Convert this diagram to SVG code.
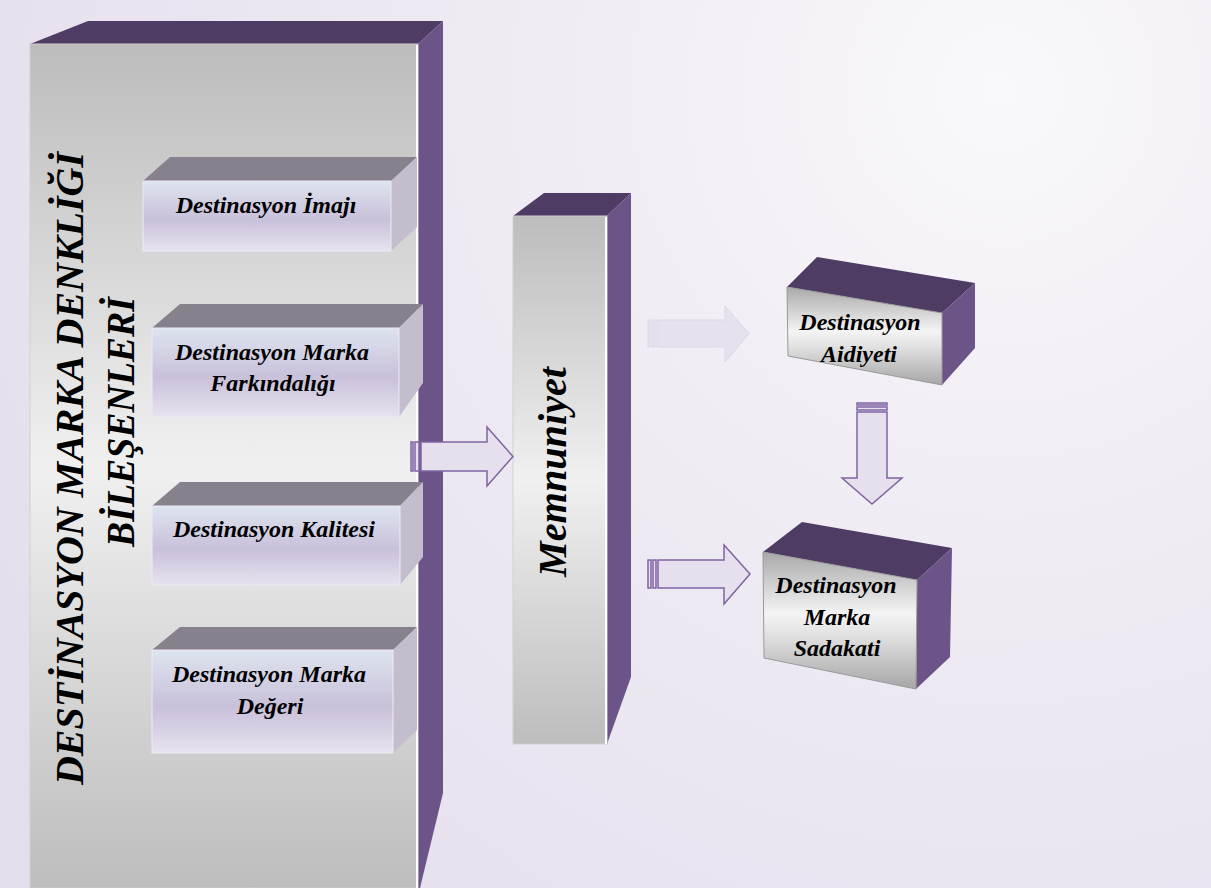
<svg xmlns="http://www.w3.org/2000/svg" width="1211" height="888" viewBox="0 0 1211 888">
  <defs>
    <radialGradient id="bgGrad" cx="1000" cy="90" r="1150" gradientUnits="userSpaceOnUse">
      <stop offset="0" stop-color="#f9f8fb"/>
      <stop offset="0.35" stop-color="#f0edf4"/>
      <stop offset="1" stop-color="#e4deec"/>
    </radialGradient>
    <!-- silver front face used by the tall panels -->
    <linearGradient id="silverV" x1="0" y1="0" x2="0" y2="1">
      <stop offset="0" stop-color="#bcbcbc"/>
      <stop offset="0.5" stop-color="#f0f0f0"/>
      <stop offset="1" stop-color="#bdbdbd"/>
    </linearGradient>
    <!-- lavender front face of the component boxes -->
    <linearGradient id="lavender" x1="0" y1="0" x2="0" y2="1">
      <stop offset="0" stop-color="#dde4ef"/>
      <stop offset="0.55" stop-color="#c9c0da"/>
      <stop offset="1" stop-color="#e7e2ef"/>
    </linearGradient>
    <!-- shiny silver front face of the outcome boxes -->
    <linearGradient id="chrome" x1="0" y1="0" x2="0" y2="1">
      <stop offset="0" stop-color="#a9a9a9"/>
      <stop offset="0.45" stop-color="#f4f4f4"/>
      <stop offset="0.6" stop-color="#e2e2e2"/>
      <stop offset="1" stop-color="#a6a6a6"/>
    </linearGradient>
    <style>
      .top { fill: #4e3c64; }
      .side { fill: #6c5489; }
      .btop { fill: #86818c; }
      .bside { fill: #c4bdce; }
      .bfront { fill: url(#lavender); stroke: #eeeaf3; stroke-width: 1; }
      .hl { stroke: #ffffff; stroke-width: 2; }
      .lbl { font-family: "Liberation Serif", "Times New Roman", serif; font-weight: bold; font-style: italic; fill: #000; }
      .s24 { font-size: 24px; text-anchor: middle; }
      .big { font-size: 40px; }
      .arrow { fill: #e5dfee; stroke: #8064a2; stroke-width: 1.5; stroke-linejoin: miter; }
      .faded { fill: #e6e1ed; stroke: #ddd6e7; stroke-width: 1; }
    </style>
  </defs>

  <!-- page background -->
  <rect x="0" y="0" width="1211" height="888" fill="url(#bgGrad)"/>

  <!-- large panel holding the brand-equity components -->
  <g id="node-bilesenler">
    <polygon class="top" points="30,44 88,21 443,21 418,44"/>
    <polygon class="side" points="418,44 443,21 443,793 420,888 418,888"/>
    <rect x="30" y="44" width="388" height="844" fill="url(#silverV)" stroke="#cfcfcf" stroke-width="1"/>
    <line class="hl" x1="417" y1="45" x2="417" y2="888"/>
    <text class="lbl big" transform="translate(83,785) rotate(-90)" textLength="633" lengthAdjust="spacingAndGlyphs">DESTİNASYON MARKA DENKLİĞİ</text>
    <text class="lbl big" transform="translate(134,547) rotate(-90)" textLength="250" lengthAdjust="spacingAndGlyphs">BİLEŞENLERİ</text>
  </g>

  <g id="node-imaj">
    <polygon class="btop" points="143,181 170,157 417,157 391,181"/>
    <polygon class="bside" points="391,181 417,157 417,227 391,251"/>
    <rect class="bfront" x="143" y="181" width="248" height="70"/>
    <text class="lbl s24" x="266" y="213">Destinasyon İmajı</text>
  </g>

  <g id="node-farkindalik">
    <polygon class="btop" points="152,328 180,304 423,304 399,328"/>
    <polygon class="bside" points="399,328 423,304 423,383 399,417"/>
    <rect class="bfront" x="152" y="328" width="247" height="89"/>
    <text class="lbl s24" x="272" y="360">Destinasyon Marka</text>
    <text class="lbl s24" x="273" y="391">Farkındalığı</text>
  </g>

  <g id="node-kalite">
    <polygon class="btop" points="152,506 180,482 423,482 400,506"/>
    <polygon class="bside" points="400,506 423,482 423,557 400,585"/>
    <rect class="bfront" x="152" y="506" width="248" height="79"/>
    <text class="lbl s24" x="274" y="537">Destinasyon Kalitesi</text>
  </g>

  <g id="node-deger">
    <polygon class="btop" points="152,650 180,627 417,627 393,650"/>
    <polygon class="bside" points="393,650 417,627 417,730 393,753"/>
    <rect class="bfront" x="152" y="650" width="241" height="103"/>
    <text class="lbl s24" x="269" y="682">Destinasyon Marka</text>
    <text class="lbl s24" x="270" y="714">Değeri</text>
  </g>

  <!-- satisfaction column -->
  <g id="node-memnuniyet">
    <polygon class="top" points="513,216 544,193 631,193 607,216"/>
    <polygon class="side" points="607,216 631,193 631,677 607,744"/>
    <rect x="513" y="216" width="94" height="528" fill="url(#silverV)" stroke="#cfcfcf" stroke-width="1"/>
    <line class="hl" x1="606" y1="217" x2="606" y2="744"/>
    <text class="lbl big" transform="translate(566,577) rotate(-90)" textLength="210" lengthAdjust="spacingAndGlyphs">Memnuniyet</text>
  </g>

  <g id="node-aidiyet">
    <polygon class="top" points="787,287 817,257 975,283 942,313"/>
    <polygon class="side" points="942,313 975,283 975,348 942,385"/>
    <polygon points="787,287 942,313 942,385 788,356" fill="url(#chrome)" stroke="#9a9a9a" stroke-width="1"/>
    <text class="lbl s24" x="860" y="330">Destinasyon</text>
    <text class="lbl s24" x="859" y="362">Aidiyeti</text>
  </g>

  <g id="node-sadakat">
    <polygon class="top" points="763,552 802,522 952,548 917,580"/>
    <polygon class="side" points="917,580 952,548 950,657 916,689"/>
    <polygon points="763,552 917,580 916,689 764,658" fill="url(#chrome)" stroke="#9a9a9a" stroke-width="1"/>
    <text class="lbl s24" x="836" y="593">Destinasyon</text>
    <text class="lbl s24" x="837" y="625">Marka</text>
    <text class="lbl s24" x="837" y="656">Sadakati</text>
  </g>

  <!-- striped block arrows -->
  <g id="connectors">
    <g id="arrow-bilesenler-memnuniyet">
      <rect class="arrow" x="411" y="442" width="2" height="29"/>
      <rect class="arrow" x="415" y="442" width="4" height="29"/>
      <polygon class="arrow" points="421,442 487,442 487,427 513,456.5 487,486 487,471 421,471"/>
    </g>
    <g id="arrow-memnuniyet-aidiyet">
      <rect class="faded" x="648" y="320" width="2" height="27"/>
      <rect class="faded" x="652" y="320" width="3" height="27"/>
      <polygon class="faded" points="657,320 725,320 725,306 749,333.5 725,362 725,347 657,347"/>
    </g>
    <g id="arrow-aidiyet-sadakat">
      <rect class="arrow" x="857" y="403" width="30" height="2"/>
      <rect class="arrow" x="857" y="407" width="30" height="3"/>
      <polygon class="arrow" points="857,412 887,412 887,478 902,478 872,504 842,478 857,478"/>
    </g>
    <g id="arrow-memnuniyet-sadakat">
      <rect class="arrow" x="648" y="560" width="3" height="28"/>
      <rect class="arrow" x="653" y="560" width="3" height="28"/>
      <polygon class="arrow" points="658,560 724,560 724,545 750,574 724,604 724,588 658,588"/>
    </g>
  </g>
</svg>
